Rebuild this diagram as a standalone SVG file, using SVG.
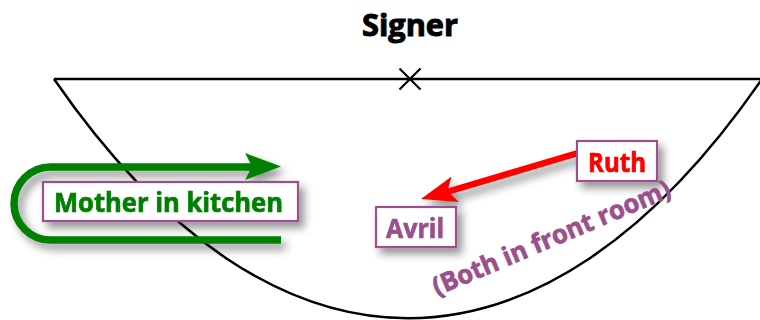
<svg xmlns="http://www.w3.org/2000/svg" width="760" height="320" viewBox="0 0 760 320">
<defs>
<filter id="shadow" x="-20%" y="-30%" width="150%" height="180%">
<feGaussianBlur in="SourceAlpha" stdDeviation="4"/>
<feOffset dx="5" dy="6" result="b"/>
<feFlood flood-color="#000" flood-opacity="0.42"/>
<feComposite in2="b" operator="in" result="s"/>
<feMerge><feMergeNode in="s"/><feMergeNode in="SourceGraphic"/></feMerge>
</filter>
<style>
.lbl{font-family:"Open Sans","DejaVu Sans",sans-serif;font-weight:bold;font-size:26px;stroke-width:0.7;paint-order:stroke}
.box{fill:#fff;stroke:#9b4f8c;stroke-width:2.2}
.stage{fill:none;stroke:#000;stroke-width:2.5}
</style>
</defs>
<rect width="760" height="320" fill="#fff"/>
<g id="signer">
<text x="410" y="36" text-anchor="middle" style="font-family:'Open Sans','DejaVu Sans',sans-serif;font-weight:bold;font-size:31px;stroke:#000;stroke-width:1" fill="#000" textLength="96" lengthAdjust="spacingAndGlyphs">Signer</text>
</g>
<g id="stage">
<path class="stage" d="M54,79 H760"/>
<path class="stage" d="M54,79 C274,398 542,398 762,79"/>
<path d="M399.5,68.5 L420.5,89.5 M420.5,68.5 L399.5,89.5" stroke="#000" stroke-width="2.2" fill="none"/>
</g>
<g id="connectors">
<g id="mother-path" filter="url(#shadow)">
<path d="M281,240 H50.5 A36.5,36.5 0 0 1 50.5,167 H252" fill="none" stroke="#008000" stroke-width="7.5"/>
<polygon points="245,153 281,166.5 245,180 252,166.5" fill="#008000"/>
</g>
<g id="ruth-to-avril" filter="url(#shadow)">
<path d="M578,153 L445,192.5" fill="none" stroke="#ff0000" stroke-width="6.5"/>
<polygon points="421,199 451.5,176.5 447.5,191 459,202" fill="#ff0000"/>
</g>
</g>
<g id="mother" filter="url(#shadow)">
<rect class="box" x="43" y="182" width="255" height="39"/>
<text class="lbl" x="54" y="212" fill="#008000" stroke="#008000" textLength="229" lengthAdjust="spacingAndGlyphs">Mother in kitchen</text>
</g>
<g id="ruth" filter="url(#shadow)">
<rect class="box" x="577" y="141" width="80" height="40"/>
<text class="lbl" x="588" y="172" fill="#ff0000" stroke="#ff0000" textLength="58" lengthAdjust="spacingAndGlyphs">Ruth</text>
</g>
<g id="avril" filter="url(#shadow)">
<rect class="box" x="376" y="207" width="80" height="40"/>
<text class="lbl" x="386" y="238" fill="#9b4f8c" stroke="#9b4f8c" textLength="58" lengthAdjust="spacingAndGlyphs">Avril</text>
</g>
<g id="caption">
<text class="lbl" x="0" y="0" fill="#9b4f8c" stroke="#9b4f8c" transform="translate(437,296) rotate(-23)" textLength="256" lengthAdjust="spacingAndGlyphs">(Both in front room)</text>
</g>
</svg>
